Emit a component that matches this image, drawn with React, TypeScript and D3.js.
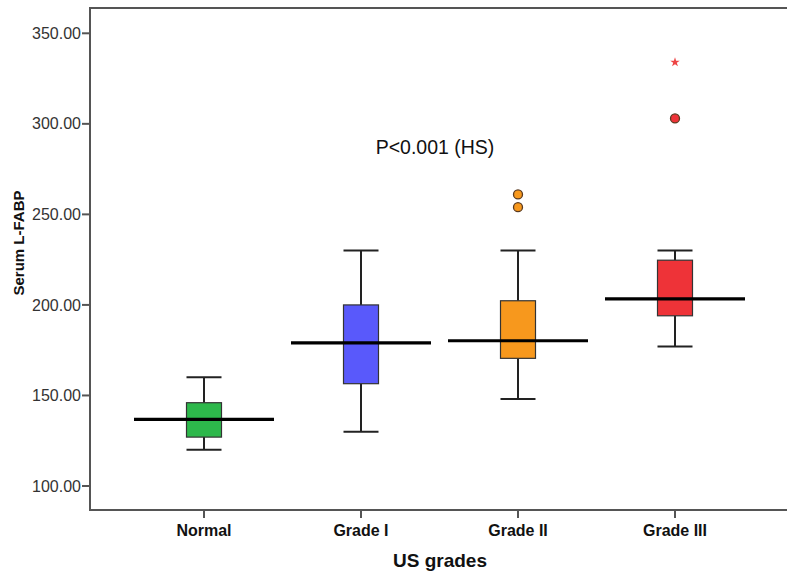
import React from "react";
import * as d3 from "d3";

const categories = ["Normal", "Grade I", "Grade II", "Grade III"];
const whiskerLow = [120, 130, 148, 177];
const q1 = [127, 156.5, 170.5, 194];
const medians = [136.8, 179, 180.2, 203.3];
const q3 = [146, 200, 202.3, 224.7];
const whiskerHigh = [160, 230, 230, 230];
const boxColors = ["#2db84b", "#5959fb", "#f7981d", "#ee3338"];
const outliers = [
  { cat: "Grade II", value: 254 },
  { cat: "Grade II", value: 261 },
  { cat: "Grade III", value: 303 },
];
const extremes = [{ cat: "Grade III", value: 334 }];
const yTicks = [100, 150, 200, 250, 300, 350];

const W = 787;
const H = 574;
const plotLeft = 90;
const plotTop = 8;
const plotBottom = 510;
const font = "Arial, 'Liberation Sans', sans-serif";

export default function App() {
  const y = d3.scaleLinear().domain([100, 350]).range([486, 33.3]);
  const x = d3.scalePoint<string>().domain(categories).range([204, 675]);
  const boxW = 35;
  const medW = 140;
  const star = d3.symbol().type(d3.symbolStar).size(28)();

  return (
    <svg
      width={W}
      height={H}
      style={{ position: "absolute", left: 0, top: 0, background: "#fff" }}
    >
      {/* frame: left, top, bottom (open on the right) */}
      <path
        d={`M${W},${plotTop}H${plotLeft}V${plotBottom}H${W}`}
        fill="none"
        stroke="#555"
        strokeWidth={2}
      />

      {yTicks.map((t) => (
        <g key={t}>
          <line x1={plotLeft - 8} x2={plotLeft} y1={y(t)} y2={y(t)} stroke="#555" strokeWidth={2} />
          <text
            x={plotLeft - 9}
            y={y(t)}
            dy="0.35em"
            textAnchor="end"
            fontFamily={font}
            fontSize={16}
            fill="#333"
          >
            {t.toFixed(2)}
          </text>
        </g>
      ))}

      {categories.map((c) => (
        <g key={c}>
          <line x1={x(c)} x2={x(c)} y1={plotBottom} y2={plotBottom + 8} stroke="#555" strokeWidth={2} />
          <text
            x={x(c)}
            y={plotBottom + 26}
            textAnchor="middle"
            fontFamily={font}
            fontSize={16}
            fontWeight="bold"
            fill="#111"
          >
            {c}
          </text>
        </g>
      ))}

      {categories.map((c, i) => {
        const cx = x(c)!;
        return (
          <g key={c}>
            <line x1={cx} x2={cx} y1={y(whiskerHigh[i])} y2={y(q3[i])} stroke="#222" strokeWidth={2} />
            <line x1={cx} x2={cx} y1={y(q1[i])} y2={y(whiskerLow[i])} stroke="#222" strokeWidth={2} />
            <line x1={cx - boxW / 2} x2={cx + boxW / 2} y1={y(whiskerHigh[i])} y2={y(whiskerHigh[i])} stroke="#222" strokeWidth={2} />
            <line x1={cx - boxW / 2} x2={cx + boxW / 2} y1={y(whiskerLow[i])} y2={y(whiskerLow[i])} stroke="#222" strokeWidth={2} />
            <rect
              x={cx - boxW / 2}
              y={y(q3[i])}
              width={boxW}
              height={y(q1[i]) - y(q3[i])}
              fill={boxColors[i]}
              stroke="#333"
              strokeWidth={1.2}
            />
            <line x1={cx - medW / 2} x2={cx + medW / 2} y1={y(medians[i])} y2={y(medians[i])} stroke="#000" strokeWidth={3.2} />
          </g>
        );
      })}

      {outliers.map((o, i) => (
        <circle
          key={i}
          cx={x(o.cat)}
          cy={y(o.value)}
          r={4.5}
          fill={boxColors[categories.indexOf(o.cat)]}
          stroke="#5a3a20"
          strokeWidth={1.3}
        />
      ))}

      {extremes.map((o, i) => (
        <path
          key={i}
          d={star!}
          transform={`translate(${x(o.cat)},${y(o.value)})`}
          fill="#ee4444"
        />
      ))}

      <text x={435} y={154} textAnchor="middle" fontFamily={font} fontSize={19.5} fill="#111">
        P&lt;0.001 (HS)
      </text>

      <text
        transform={`translate(24,243) rotate(-90)`}
        textAnchor="middle"
        fontFamily={font}
        fontSize={15}
        fontWeight="bold"
        fill="#111"
      >
        Serum L-FABP
      </text>

      <text x={440} y={567} textAnchor="middle" fontFamily={font} fontSize={19} fontWeight="bold" fill="#111">
        US grades
      </text>
    </svg>
  );
}
